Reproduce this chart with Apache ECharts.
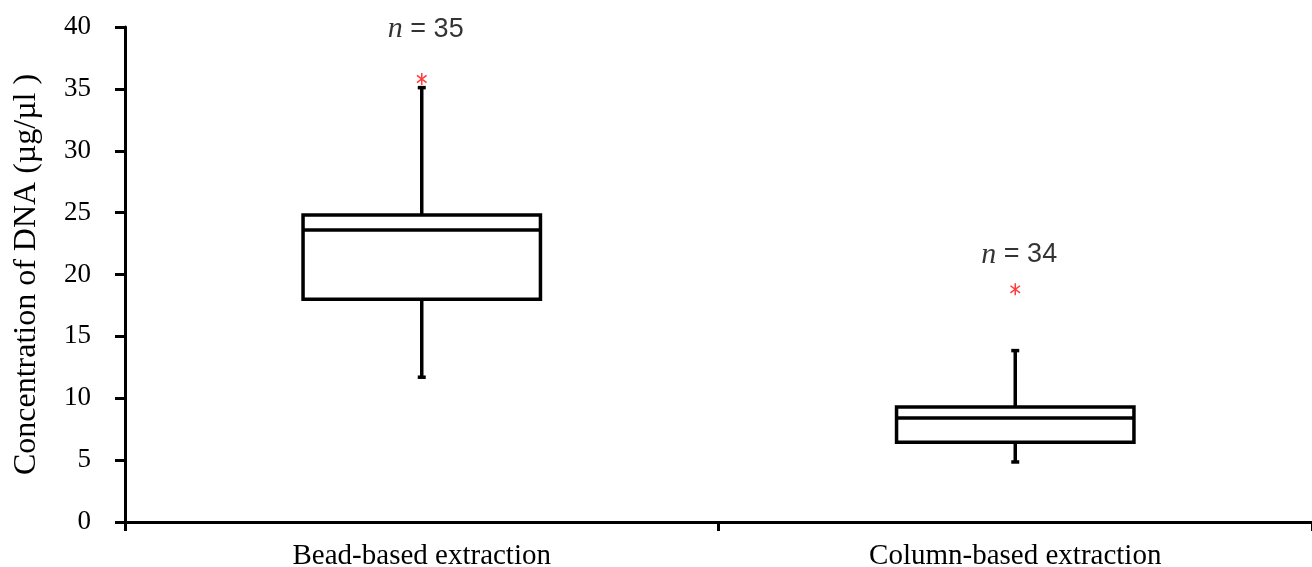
<!DOCTYPE html>
<html>
<head>
<meta charset="utf-8">
<script src="https://cdn.jsdelivr.net/npm/echarts@6/dist/echarts.min.js"></script>
<style>
  html, body { margin: 0; padding: 0; background: #fff; }
  #chart { width: 1312px; height: 567px; }
</style>
</head>
<body>
<div id="chart"></div>
<script>
// box plot values
const categories = ['Bead-based extraction', 'Column-based extraction']
const whiskerLow = [11.7, 4.85]
const q1 = [18.0, 6.45]
const median = [23.6, 8.4]
const q3 = [24.8, 9.3]
const whiskerHigh = [35.1, 13.85]
const outliers = [35.8, 18.8]
const sampleSizes = ['35', '34']
const sampleLabelY = [39.8, 21.6]

const chart = echarts.init(document.getElementById('chart'))
const serif = '"Liberation Serif", "DejaVu Serif", serif'

function renderBox(params, api) {
  const i = api.value(0)
  const band = api.size([1, 0])[0]
  const half = band * 0.2
  const lo = api.coord([i, api.value(1)])
  const b1 = api.coord([i, api.value(2)])
  const md = api.coord([i, api.value(3)])
  const b3 = api.coord([i, api.value(4)])
  const hi = api.coord([i, api.value(5)])
  const cx = lo[0]
  const cap = 4
  const st = { stroke: '#000', lineWidth: 3.5, fill: null }
  return {
    type: 'group',
    children: [
      { type: 'rect', shape: { x: cx - half, y: b3[1], width: half * 2, height: b1[1] - b3[1] }, style: { stroke: '#000', lineWidth: 3.5, fill: '#fff' } },
      { type: 'line', shape: { x1: cx - half, y1: md[1], x2: cx + half, y2: md[1] }, style: st },
      { type: 'line', shape: { x1: cx, y1: b3[1], x2: cx, y2: hi[1] }, style: st },
      { type: 'line', shape: { x1: cx, y1: b1[1], x2: cx, y2: lo[1] }, style: st },
      { type: 'line', shape: { x1: cx - cap, y1: hi[1], x2: cx + cap, y2: hi[1] }, style: st },
      { type: 'line', shape: { x1: cx - cap, y1: lo[1], x2: cx + cap, y2: lo[1] }, style: st }
    ]
  }
}

function renderStar(params, api) {
  const p = api.coord([api.value(0), api.value(1)])
  const r = 6
  const st = { stroke: '#ff3b3b', lineWidth: 1.5 }
  return {
    type: 'group',
    children: [
      { type: 'line', shape: { x1: p[0], y1: p[1] - r, x2: p[0], y2: p[1] + r }, style: st },
      { type: 'line', shape: { x1: p[0] - r * 0.8, y1: p[1] - r * 0.6, x2: p[0] + r * 0.8, y2: p[1] + r * 0.6 }, style: st },
      { type: 'line', shape: { x1: p[0] - r * 0.8, y1: p[1] + r * 0.6, x2: p[0] + r * 0.8, y2: p[1] - r * 0.6 }, style: st }
    ]
  }
}

const option = {
  animation: false,
  grid: { left: 125, right: 0, top: 27, bottom: 45, containLabel: false, outerBoundsMode: 'none' },
  xAxis: {
    type: 'category',
    data: categories,
    boundaryGap: true,
    axisLine: { lineStyle: { color: '#000', width: 3 } },
    axisTick: { show: true, length: 9, lineStyle: { color: '#000', width: 3 } },
    axisLabel: { color: '#000', fontFamily: serif, fontSize: 29, margin: 20 },
    splitLine: { show: false }
  },
  yAxis: {
    type: 'value',
    min: 0,
    max: 40,
    interval: 5,
    name: 'Concentration of DNA (µg/µl )',
    nameLocation: 'middle',
    nameGap: 82,
    nameTextStyle: { color: '#000', fontFamily: serif, fontSize: 32 },
    axisLine: { show: true, lineStyle: { color: '#000', width: 3 } },
    axisTick: { show: true, length: 10, lineStyle: { color: '#000', width: 3 } },
    axisLabel: { color: '#000', fontFamily: serif, fontSize: 27, margin: 34 },
    splitLine: { show: false }
  },
  series: [
    {
      type: 'custom',
      renderItem: renderBox,
      encode: { x: 0, y: [1, 2, 3, 4, 5] },
      data: categories.map((c, i) => [i, whiskerLow[i], q1[i], median[i], q3[i], whiskerHigh[i]]),
      z: 2
    },
    {
      type: 'custom',
      renderItem: renderStar,
      encode: { x: 0, y: 1 },
      data: outliers.map((v, i) => [i, v]),
      z: 3
    },
    {
      type: 'scatter',
      symbolSize: 0,
      silent: true,
      data: sampleSizes.map((n, i) => [i, sampleLabelY[i], n]),
      label: {
        show: true,
        position: 'inside',
        offset: [4, 0],
        formatter: p => '{i|n} = ' + p.value[2],
        color: '#000',
        fontFamily: '"Liberation Sans", "DejaVu Sans", sans-serif',
        fontSize: 27,
        rich: {
          i: { fontFamily: serif, fontStyle: 'italic', fontSize: 30, color: '#000' }
        }
      }
    }
  ]
}
chart.setOption(option)
</script>
</body>
</html>
